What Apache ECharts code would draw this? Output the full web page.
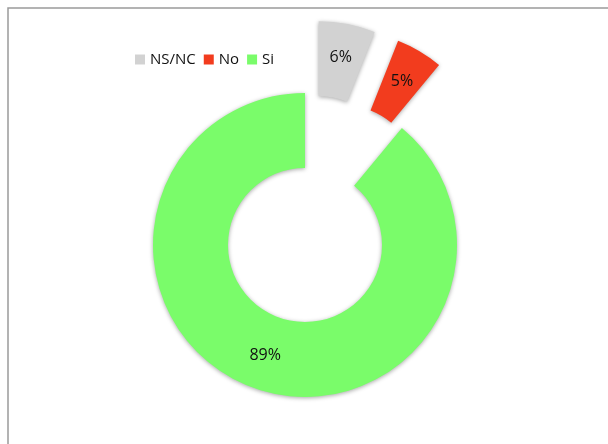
<!DOCTYPE html>
<html>
<head>
<meta charset="utf-8">
<style>html,body{margin:0;padding:0;background:#fff}#c{width:608px;height:444px}</style>
<script src="https://cdn.jsdelivr.net/npm/echarts@6/dist/echarts.min.js"></script>
</head>
<body>
<div id="c"></div>
<script>
var categories = ['NS/NC', 'No', 'Si'];
var values = [6, 5, 89];
var colors = ['#d2d2d2', '#f23c1e', '#7afc6a'];
var exploded = [true, true, false];

var chart = echarts.init(document.getElementById('c'));
chart.setOption({
  animation: false,
  graphic: [{
    type: 'rect', shape: {x: 8, y: 8, width: 700, height: 600},
    style: {fill: 'none', stroke: '#9a9a9a', lineWidth: 1.5}, silent: true
  }],
  legend: {
    left: 130, top: 47, itemWidth: 10, itemHeight: 10, itemGap: 8,
    icon: 'rect',
    textStyle: {fontFamily: 'Open Sans', fontSize: 15, color: '#111'},
    data: categories
  },
  series: [{
    type: 'pie',
    center: [305, 245],
    radius: [77, 152],
    startAngle: 90,
    clockwise: true,
    selectedMode: 'multiple',
    selectedOffset: 73,
    avoidLabelOverlap: false,
    label: {
      show: true, position: 'inside',
      formatter: function (p) { return p.value + '%'; },
      fontFamily: 'Open Sans', fontSize: 16, color: '#111'
    },
    labelLine: {show: false},
    itemStyle: {shadowBlur: 4, shadowColor: 'rgba(0,0,0,0.35)', shadowOffsetY: 1},
    emphasis: {disabled: true},
    data: categories.map(function (n, i) {
      return {name: n, value: values[i], selected: exploded[i], itemStyle: {color: colors[i]}};
    })
  }]
});
</script>
</body>
</html>
